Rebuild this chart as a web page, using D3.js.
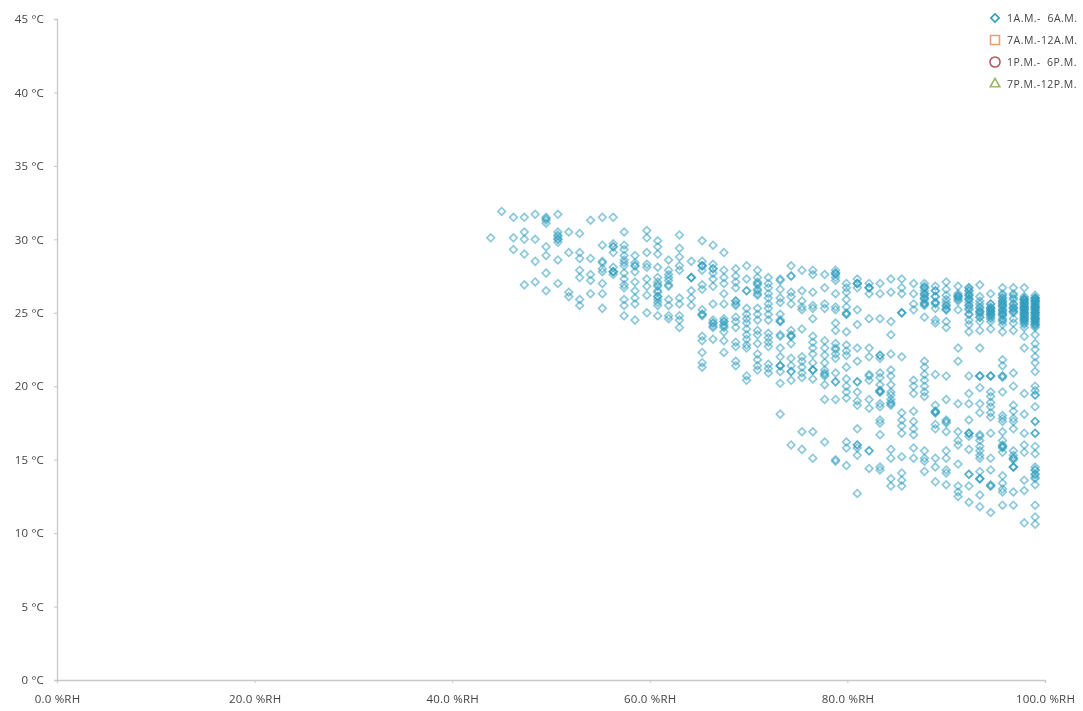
<!DOCTYPE html>
<html>
<head>
<meta charset="utf-8">
<script src="https://d3js.org/d3.v7.min.js"></script>
<style>
  html, body { margin: 0; background: #fff; }
  svg { display: block; filter: blur(0.7px); }
  text { font-family: "Open Sans", "DejaVu Sans", sans-serif; fill: #444; }
</style>
</head>
<body>
<svg id="chart" width="1083" height="711"></svg>
<script>
// humidity of each column of readings
const rhValues = [43.9,45.0,46.2,47.3,48.4,49.5,50.7,51.8,52.9,54.0,
  55.2,56.3,57.4,58.5,59.7,60.8,61.9,63.0,64.2,65.3,
  66.4,67.5,68.7,69.8,70.9,72.0,73.2,74.3,75.4,76.5,
  77.7,78.8,79.9,81.0,82.2,83.3,84.4,85.5,86.7,87.8,
  88.9,90.0,91.2,92.3,93.4,94.5,95.7,96.8,97.9,99.0];

// temperatures, one list per humidity column
const tempValues = [
  [30.1],
  [31.9],
  [31.5,30.1,29.3],
  [31.5,30.5,30.0,29.0,26.9],
  [31.7,30.0,28.5,27.1],
  [31.5,31.3,31.1,29.5,28.9,27.7,26.5],
  [31.7,30.5,30.3,30.0,29.8,28.6,27.0],
  [30.5,29.1,26.4,26.1],
  [30.4,29.1,28.7,27.9,27.4,25.9,25.5],
  [31.3,28.7,27.6,27.2,26.3],
  [31.5,29.6,28.5,28.0,27.8,27.0,26.3,25.3],
  [31.5,29.7,29.5,29.1,28.1,27.8,27.6],
  [30.5,29.6,29.3,28.9,28.6,28.2,27.7,27.3,26.9,26.7,25.9,25.5,24.8],
  [28.9,28.4,27.8,27.1,26.5,26.0,25.6,24.5],
  [30.6,30.1,29.1,28.1,27.3,26.8,26.2,25.0],
  [29.9,29.5,29.0,28.1,27.4,27.1,26.8,26.4,26.1,25.7,25.5,24.8],
  [28.6,27.9,27.6,27.2,26.8,25.9,25.5,24.8,24.6],
  [30.3,29.4,28.8,28.2,27.9,26.0,25.6,24.8,24.5,24.0],
  [28.5,27.4,26.5,26.0,25.5],
  [29.9,28.5,28.2,27.9,26.9,26.6,25.2,24.8,23.4,23.1,22.3,21.6,21.3],
  [29.6,28.3,28.0,27.7,27.3,26.8,25.6,24.5,24.3,24.0,23.2],
  [29.1,27.9,27.4,27.0,26.3,25.6,24.6,24.4,24.1,23.7,23.1,22.3],
  [28.0,27.5,27.1,26.7,25.8,25.5,24.7,24.4,24.0,23.0,22.7,21.7,21.4],
  [28.2,27.3,26.5,25.3,24.9,24.6,24.3,23.9,23.5,23.2,22.8,22.6,20.7,20.4],
  [27.9,27.4,27.1,26.9,26.5,26.2,25.3,24.9,24.5,23.8,23.5,22.9,22.2,21.8,21.4,21.1],
  [27.4,27.0,26.7,26.3,26.0,25.6,25.3,24.9,24.5,23.6,23.3,23.0,22.7,21.5,21.2,20.9],
  [27.3,27.2,26.6,26.0,25.7,24.9,24.5,23.5,23.4,22.6,22.0,21.4,21.0,20.2,18.1],
  [28.2,27.5,26.4,26.1,25.6,23.8,23.4,22.9,21.9,21.4,21.0,20.4,16.0],
  [27.9,26.5,25.8,25.4,25.2,23.9,22.0,21.7,21.3,20.9,20.6,16.9,15.7],
  [27.9,27.6,26.4,25.5,25.3,24.6,23.4,23.0,22.6,22.2,21.6,21.1,20.5,16.9,15.1],
  [27.6,26.7,25.6,25.3,23.1,22.6,22.1,21.6,21.1,20.8,20.1,19.1,16.2],
  [27.9,27.7,27.4,27.2,26.3,25.4,25.2,24.3,23.8,22.9,22.6,22.2,21.9,20.9,20.3,19.1,15.0,14.9],
  [27.0,26.7,26.4,25.9,25.4,24.9,23.7,22.8,22.4,22.1,21.3,20.5,20.0,19.6,19.2,16.2,15.8,14.6],
  [27.3,27.0,26.7,25.2,24.2,22.6,21.7,20.3,19.6,19.0,18.7,17.1,16.0,15.8,15.3,12.7],
  [27.0,26.7,26.3,24.6,22.6,22.0,20.8,20.4,19.1,18.5,15.6,14.4],
  [27.0,26.3,24.6,22.1,21.9,20.9,20.6,20.1,19.7,19.6,18.8,18.6,17.7,17.5,16.7,14.5,14.3],
  [27.3,26.4,24.4,23.5,22.2,21.1,20.7,20.1,19.6,19.4,19.1,18.7,15.7,15.1,13.7,13.2],
  [27.3,26.7,26.3,25.0,22.0,18.2,17.7,17.3,16.8,15.2,14.1,13.6,13.2],
  [27.0,26.3,25.6,25.2,20.4,20.0,19.5,18.3,17.6,17.1,16.7,15.8,15.1],
  [27.0,26.7,26.3,26.0,25.6,24.7,21.7,21.3,20.8,20.4,20.0,19.6,19.3,15.6,15.1,14.9,14.2],
  [26.8,26.5,26.1,25.7,25.3,24.5,24.3,20.8,18.7,18.3,18.2,17.4,17.1,15.1,14.5,13.5],
  [27.1,26.6,26.2,25.9,25.5,25.2,24.4,24.0,20.7,19.1,17.7,17.5,16.9,15.6,15.1,14.3,14.1,13.3],
  [26.8,26.3,26.1,25.9,25.2,22.6,21.7,18.8,16.9,16.3,16.0,14.7,13.2,12.8,12.5],
  [26.7,26.5,26.2,25.9,25.5,25.2,24.9,24.5,24.2,23.7,20.7,19.5,18.8,17.7,16.8,16.6,15.7,14.0,13.2,12.1],
  [26.9,26.1,25.8,25.4,25.1,24.7,24.4,23.8,22.6,20.7,19.9,18.8,18.2,16.6,16.3,15.9,15.6,15.3,15.1,14.2,13.7,12.6,11.8],
  [26.3,25.6,25.3,25.1,24.9,24.6,24.4,23.9,20.7,19.6,19.3,18.9,18.6,18.2,17.9,16.8,15.1,14.3,13.3,11.4],
  [26.7,26.2,26.0,25.8,25.5,25.2,24.9,24.5,24.2,23.7,21.8,21.4,20.7,19.6,18.0,17.8,17.6,16.9,16.3,16.0,15.8,15.5,13.9,13.4,13.0,12.8,11.9],
  [26.7,26.3,26.0,25.6,25.3,25.1,24.6,24.3,23.8,20.9,20.0,18.7,18.3,17.8,17.6,17.1,15.6,15.3,15.0,14.5,12.8,11.9],
  [26.7,26.1,25.9,25.6,25.4,25.2,25.0,24.7,24.5,24.3,24.0,23.4,22.6,19.5,18.1,16.8,16.0,15.5,13.6,12.9,10.7],
  [26.2,26.0,25.8,25.6,25.4,25.2,25.0,24.8,24.6,24.4,24.2,24.0,23.5,22.9,22.5,22.0,21.6,21.0,20.0,19.7,19.4,19.4,18.6,17.6,16.8,15.9,15.4,14.5,14.3,14.0,13.7,13.3,11.9,11.1,10.6]
];

// readings that fall on the same spot, these make the darker rings
const repeatValues = [
  [],[],[],[],[],[31.4],[30.2,30.0],[],[],[],
  [28.4],[27.8,27.8,29.5],[28.4],[28.2,28.2],[28.3],[26.9,26.5,26.1,25.9],[27.4,26.9],[],[27.4,27.4],[28.2,28.2,24.9,24.9],
  [24.3,24.1,28.0],[24.2,24.4,24.0],[25.6,25.8],[26.5],[27.0,26.6,26.3],[],[24.4,24.4,21.4,21.4],[27.5,23.5,23.4,21.0],[],[21.1,21.1],
  [20.7,20.9],[27.7,27.6,22.5,20.3],[25.0,24.9],[27.0,27.0,20.3,16.0],[26.7,26.7,20.7,15.6],[22.1,19.7,19.6],[18.9,18.8],[25.0,25.0],[],
  [26.7,26.5,26.3,26.0,25.6,25.5,25.9,26.2,26.8,25.7],
  [25.7,25.6,18.2,18.3,26.5,26.1],[25.3,25.2,17.6,25.7,25.5],[26.2,26.1,26.0,25.8],
  [26.5,26.2,25.9,25.5,16.8,16.8,14.0,26.7,26.3,26.0,25.7,25.3,24.9],
  [25.1,25.0,20.7,20.7,16.7,13.7,13.7,25.6,25.3,24.9,24.7],
  [25.3,25.1,24.9,24.7,20.7,20.7,13.2,13.2,25.6,25.4,25.2,25.0,24.8],
  [25.8,25.5,25.2,24.9,25.6,25.0,24.4,20.6,20.7,15.9,15.9,26.3,26.0,25.7,25.4,25.1,24.8,24.6],
  [25.6,25.3,25.0,15.1,15.1,14.5,14.5,26.2,25.9,25.4,25.1],
  [25.9,25.7,25.5,25.3,25.1,24.9,24.7,24.5,25.8,25.4,25.0,24.6,25.9,25.6,25.2,24.8,24.4,24.2,26.0,25.7,25.3,24.9],
  [26.0,25.8,25.6,25.4,25.2,25.0,24.8,24.6,24.4,24.2,25.9,25.5,25.1,24.7,24.3,17.6,16.8,14.3,14.0,13.8,26.0,25.7,25.3,24.9,24.5,24.1,25.8,25.4,25.0,24.6]
];

const xTicks = [0, 20, 40, 60, 80, 100];
const yTicks = [0, 5, 10, 15, 20, 25, 30, 35, 40, 45];

const seriesNames = ["1A.M.-  6A.M.", "7A.M.-12A.M.", "1P.M.-  6P.M.", "7P.M.-12P.M."];
const seriesColors = ["#2f9dbd", "#e8a070", "#b5585f", "#9bb56a"];
const seriesSymbols = [d3.symbolSquare, d3.symbolSquare, d3.symbolCircle, d3.symbolTriangle];

const svg = d3.select("#chart");

const xScale = d3.scaleLinear().domain([0, 100]).range([57, 1045]);
const yScale = d3.scaleLinear().domain([0, 45]).range([680, 19]);

// axes
const xAxis = svg.append("g")
  .attr("transform", "translate(0,680)")
  .call(d3.axisBottom(xScale).tickValues(xTicks).tickSize(3).tickPadding(12)
    .tickFormat(d => d.toFixed(1) + " %RH"));
const yAxis = svg.append("g")
  .attr("transform", "translate(57,0)")
  .call(d3.axisLeft(yScale).tickValues(yTicks).tickSize(3).tickPadding(10)
    .tickFormat(d => d + " °C"));

[xAxis, yAxis].forEach(function(a){
  a.selectAll(".domain").attr("stroke", "#c8c8c8").attr("stroke-width", 1.3);
  a.selectAll(".tick line").attr("stroke", "#c8c8c8");
  a.selectAll("text").style("font-size", "11.5px").style("letter-spacing", "0.2px");
});

// points
const points = [];
rhValues.forEach(function(rh, i){
  tempValues[i].concat(repeatValues[i]).forEach(function(t){
    points.push({rh: rh, t: t});
  });
});

const diamond = d3.symbol().type(d3.symbolSquare).size(29);

svg.append("g")
  .selectAll("path")
  .data(points)
  .enter()
  .append("path")
  .attr("d", diamond)
  .attr("transform", function(d){
    return "translate(" + xScale(d.rh) + "," + yScale(d.t) + ") rotate(45)";
  })
  .attr("fill", "none")
  .attr("stroke", seriesColors[0])
  .attr("stroke-opacity", 0.55)
  .attr("stroke-width", 1.7);

// legend
const legend = svg.append("g")
  .selectAll("g")
  .data(seriesNames)
  .enter()
  .append("g")
  .attr("transform", function(d, i){
    return "translate(995," + (18 + i * 22) + ")" + (i == 0 ? " rotate(45)" : "");
  });

legend.append("path")
  .attr("d", function(d, i){
    return d3.symbol().type(seriesSymbols[i]).size(i == 0 ? 34 : (i == 3 ? 40 : 80))();
  })
  .attr("fill", "none")
  .attr("stroke", function(d, i){ return seriesColors[i]; })
  .attr("stroke-width", 1.6);

svg.append("g")
  .selectAll("text")
  .data(seriesNames)
  .enter()
  .append("text")
  .attr("x", 1007)
  .attr("y", function(d, i){ return 21.5 + i * 22; })
  .style("font-size", "10.5px")
  .style("letter-spacing", "0.5px")
  .style("white-space", "pre")
  .text(function(d){ return d; });
</script>
</body>
</html>
